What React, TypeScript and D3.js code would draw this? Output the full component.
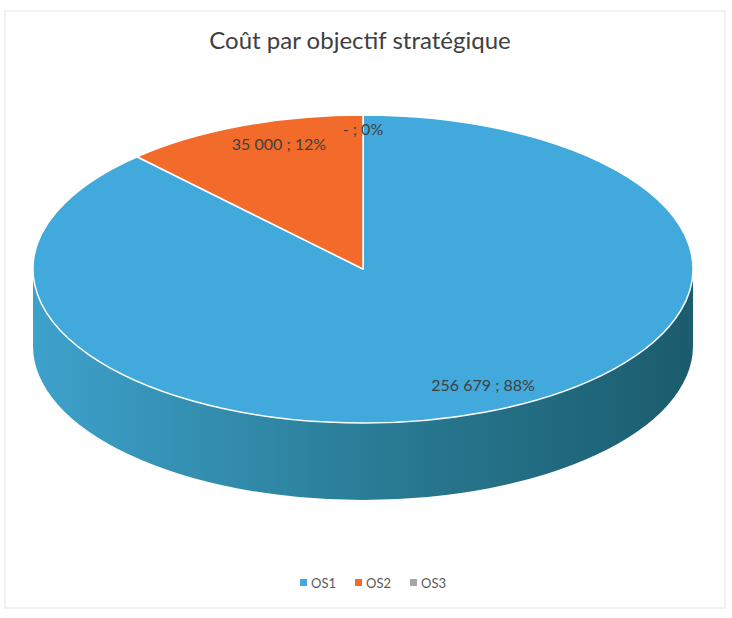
import React, { useRef, useEffect } from 'react';
import * as d3 from 'd3';

// données du graphique
const title = "Coût par objectif stratégique";
const categories = ["OS1", "OS2", "OS3"];
const values = [256679, 35000, 0];
const colors = ["#42a9dc", "#f26b2b", "#a5a5a5"];

const width = 732;
const height = 618;

const App = () => {
    const svgRef = useRef<SVGSVGElement>(null);

    useEffect(() => {
        document.body.style.margin = "0";
        const svg = d3.select(svgRef.current);
        svg.selectAll('*').remove();

        // cadre léger
        svg.append("rect")
            .attr("x", 5).attr("y", 11)
            .attr("width", 720).attr("height", 597)
            .attr("fill", "#fff")
            .attr("stroke", "#e4e4e4");

        svg.append("text")
            .attr("x", 360).attr("y", 49)
            .attr("text-anchor", "middle")
            .style("font-family", "Lato, 'Open Sans', sans-serif")
            .style("font-size", "24px")
            .style("fill", "#404040")
            .text(title);

        // géométrie de la tarte 3D
        const cx = 363, cy = 269, rx = 330, ry = 154, depth = 77;
        const pt = (a: number, r = 1, dz = 0): [number, number] =>
            [cx + rx * r * Math.sin(a), cy - ry * r * Math.cos(a) + dz];

        const data = categories.map((c, i) => ({ label: c, value: values[i], color: colors[i] }));
        const total = d3.sum(values);
        const pie = d3.pie<any>()
            .value(d => d.value)
            .sort(null)
            .startAngle(0)
            .endAngle(2 * Math.PI);
        const arcs = pie(data);

        const defs = svg.append("defs");
        const grad = defs.append("linearGradient")
            .attr("id", "sideGrad")
            .attr("gradientUnits", "userSpaceOnUse")
            .attr("x1", cx - rx).attr("x2", cx + rx)
            .attr("y1", 0).attr("y2", 0);
        grad.append("stop").attr("offset", "0%").attr("stop-color", "#3ea1cb");
        grad.append("stop").attr("offset", "50%").attr("stop-color", "#2a7d97");
        grad.append("stop").attr("offset", "100%").attr("stop-color", "#1b5c6d");

        // côtés visibles (moitié avant)
        arcs.forEach(d => {
            const s = Math.max(d.startAngle, Math.PI / 2);
            const e = Math.min(d.endAngle, 3 * Math.PI / 2);
            if (e <= s) return;
            const p0 = pt(s), p1 = pt(e), p2 = pt(e, 1, depth), p3 = pt(s, 1, depth);
            const large = e - s > Math.PI ? 1 : 0;
            const path = `M${p0[0]},${p0[1]} A${rx},${ry} 0 ${large} 1 ${p1[0]},${p1[1]}`
                + ` L${p2[0]},${p2[1]} A${rx},${ry} 0 ${large} 0 ${p3[0]},${p3[1]} Z`;
            svg.append("path")
                .attr("d", path)
                .attr("fill", d.index === 0 ? "url(#sideGrad)" : d3.color(d.data.color)!.darker(1).toString());
        });

        // faces supérieures
        arcs.forEach(d => {
            if (d.endAngle - d.startAngle <= 0) return;
            const p0 = pt(d.startAngle), p1 = pt(d.endAngle);
            const large = d.endAngle - d.startAngle > Math.PI ? 1 : 0;
            svg.append("path")
                .attr("d", `M${cx},${cy} L${p0[0]},${p0[1]} A${rx},${ry} 0 ${large} 1 ${p1[0]},${p1[1]} Z`)
                .attr("fill", d.data.color)
                .attr("stroke", "#ffffff")
                .attr("stroke-width", 1.5)
                .attr("stroke-linejoin", "round");
        });

        // étiquettes de données (position "ajustement optimal" approchée)
        const fmt = d3.formatLocale({ decimal: ",", thousands: " ", grouping: [3], currency: ["", " €"] }).format(",d");
        arcs.forEach(d => {
            const mid = (d.startAngle + d.endAngle) / 2;
            const f = d.value === 0 ? 0.88 : 0.84;
            const [x, y] = pt(mid, f);
            const shift = d.value === 0 ? 0 : 18;
            const pct = Math.round(d.value / total * 100);
            svg.append("text")
                .attr("x", x + shift).attr("y", y - 4)
                .attr("dy", "0.35em")
                .attr("text-anchor", "middle")
                .style("font-family", "Lato, 'Open Sans', sans-serif")
                .style("font-size", "16px")
                .style("fill", "#404040")
                .text(`${d.value === 0 ? "-" : fmt(d.value)} ; ${pct}%`);
        });

        // légende
        const legend = svg.append("g").attr("transform", "translate(300, 583)");
        const lx = d3.scalePoint<string>().domain(categories).range([0, 110]);
        categories.forEach((c, i) => {
            const g = legend.append("g").attr("transform", `translate(${lx(c)}, 0)`);
            g.append("rect")
                .attr("x", 0).attr("y", -4)
                .attr("width", 7).attr("height", 7)
                .attr("fill", colors[i]);
            g.append("text")
                .attr("x", 11).attr("y", 0)
                .attr("dy", "0.35em")
                .style("font-family", "Lato, 'Open Sans', sans-serif")
                .style("font-size", "13px")
                .style("fill", "#595959")
                .text(c);
        });
    }, []);

    return (
        <svg ref={svgRef} width={width} height={height} style={{ display: 'block', background: '#fff' }}></svg>
    );
};

export default App;
